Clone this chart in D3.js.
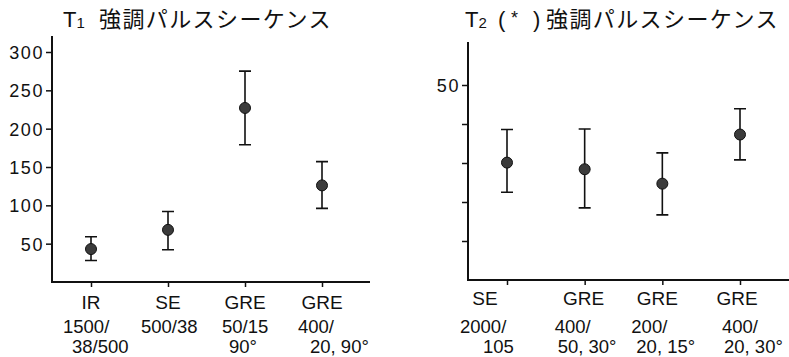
<!DOCTYPE html>
<html><head><meta charset="utf-8">
<script src="https://cdn.jsdelivr.net/npm/d3@7"></script>
<style>
body{margin:0;background:#fff;}
text{font-family:"Liberation Sans",Arial,sans-serif;fill:#111;}
.cjk{font-family:"Noto Sans CJK JP","Liberation Sans",sans-serif;}
</style></head>
<body><svg id="c" width="789" height="357"></svg>
<script>
// ---- data ----
const t1Categories = ["IR", "SE", "GRE", "GRE "];
const t1Params = [["1500/", "38/500"], ["500/38"], ["50/15", "90°"], ["400/", "20, 90°"]];
const t1Mean = [43, 68, 227, 126];
const t1Upper = [59, 92, 275, 157];
const t1Lower = [28, 42, 179, 96];
const t1Ticks = [50, 100, 150, 200, 250, 300];

const t2Categories = ["SE", "GRE", "GRE ", "GRE  "];
const t2Params = [["2000/", "105"], ["400/", "50, 30°"], ["200/", "20, 15°"], ["400/", "20, 30°"]];
const t2Mean = [30.1, 28.4, 24.7, 37.3];
const t2Upper = [38.6, 38.7, 32.6, 43.9];
const t2Lower = [22.5, 18.5, 16.7, 30.8];
const t2Ticks = [10, 20, 30, 40, 50];
const t2TickLabels = ["", "", "", "", "50"];

const svg = d3.select("#c");

function panel(cfg){
  const g = svg.append("g");
  const y = d3.scaleLinear().domain(cfg.yDomain).range(cfg.yRange);
  const x = d3.scalePoint().domain(cfg.cats).range(cfg.xRange);
  const ya = d3.axisLeft(y).tickValues(cfg.ticks).tickSize(6).tickPadding(2)
    .tickFormat((d,i)=>cfg.tickLabels ? cfg.tickLabels[i] : d);
  const yg = g.append("g").attr("transform",`translate(${cfg.axisX},0)`).call(ya);
  yg.select(".domain").remove();
  yg.selectAll(".tick line").attr("stroke","#111").attr("stroke-width",1.5);
  yg.selectAll(".tick text").attr("font-size",18).attr("letter-spacing","1.6px").attr("fill","#111").attr("dy","0.36em");
  const xa = d3.axisBottom(x).tickSize(5).tickFormat("");
  const xg = g.append("g").attr("transform",`translate(0,${cfg.axisY})`).call(xa);
  xg.select(".domain").remove();
  xg.selectAll(".tick line").attr("stroke","#111").attr("stroke-width",1.5);
  g.append("path").attr("d",`M${cfg.axisX},${cfg.axisTop}V${cfg.axisY}H${cfg.axisRight}`)
    .attr("fill","none").attr("stroke","#111").attr("stroke-width",2);
  cfg.cats.forEach((c,i)=>{
    const cx = x(c);
    const L = cfg.labelLayout[i];
    g.append("text").attr("x",cx+L[0]).attr("y",cfg.labelY[0]).attr("text-anchor","middle")
      .attr("font-size",19).text(c.trim());
    cfg.params[i].forEach((p,j)=>{
      g.append("text").attr("x",cx+L[1+j]).attr("y",cfg.labelY[1+j]).attr("text-anchor","start")
        .attr("font-size",18.5).text(p);
    });
  });
  const cap = 6;
  cfg.cats.forEach((c,i)=>{
    const cx = x(c);
    g.append("path").attr("d",
      `M${cx},${y(cfg.upper[i])}V${y(cfg.lower[i])}M${cx-cap},${y(cfg.upper[i])}H${cx+cap}M${cx-cap},${y(cfg.lower[i])}H${cx+cap}`)
      .attr("stroke","#111").attr("stroke-width",1.6).attr("fill","none");
    g.append("circle").attr("cx",cx).attr("cy",y(cfg.mean[i])).attr("r",5.5)
      .attr("fill","#3b3b3b").attr("stroke","#111").attr("stroke-width",1);
  });
}

panel({cats:t1Categories, params:t1Params, mean:t1Mean, upper:t1Upper, lower:t1Lower,
  ticks:t1Ticks, yDomain:[0,300], yRange:[282,52], xRange:[91,322],
  axisX:52, axisY:282, axisTop:36, axisRight:370,
  labelY:[309,333,353], labelLayout:[[0,-28,-19],[0,-27],[0,-23,-16],[0,-24,-12]]});

panel({cats:t2Categories, params:t2Params, mean:t2Mean, upper:t2Upper, lower:t2Lower,
  ticks:t2Ticks, tickLabels:t2TickLabels, yDomain:[0,50], yRange:[280,85], xRange:[507,740],
  axisX:468, axisY:280, axisTop:42, axisRight:789,
  labelY:[305,333,353], labelLayout:[[-22,-47,-24],[-1,-30,-27],[-5,-31,-26],[-3,-18,-16]]});

// titles
const t1 = svg.append("text").attr("y",27).attr("font-size",22);
t1.append("tspan").attr("x",63).text("T");
t1.append("tspan").attr("font-size",15).attr("dy",1).text("1");
t1.append("tspan").attr("class","cjk").attr("x",99).attr("dy",-1).attr("letter-spacing","1.4px").text("強調パルスシーケンス");

const t2 = svg.append("text").attr("y",27).attr("font-size",22);
t2.append("tspan").attr("x",465).text("T");
t2.append("tspan").attr("font-size",15).attr("dy",1).text("2");
t2.append("tspan").attr("x",498).attr("dy",-1).text("(");
t2.append("tspan").attr("x",511).attr("dy",-3).attr("font-size",18).text("*");
t2.append("tspan").attr("x",533).attr("dy",3).text(")");
t2.append("tspan").attr("class","cjk").attr("x",546).attr("letter-spacing","1.4px").text("強調パルスシーケンス");
</script></body></html>
